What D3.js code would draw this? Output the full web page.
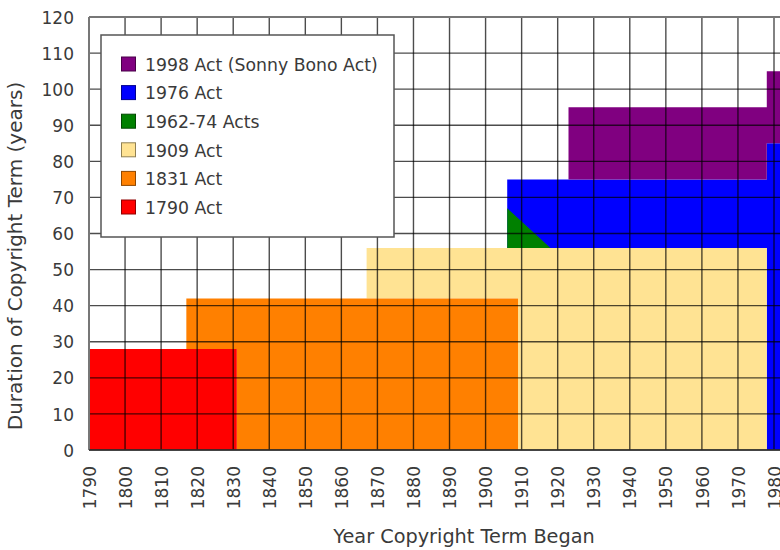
<!DOCTYPE html>
<html>
<head>
<meta charset="utf-8">
<script src="https://cdn.jsdelivr.net/npm/d3@7"></script>
<style>
  html, body { margin: 0; padding: 0; background: #fff; }
  svg { display: block; font-family: "DejaVu Sans", sans-serif; }
</style>
</head>
<body>
<svg id="chart" width="780" height="550"></svg>
<script>
// ---- data ----
const yearTicks = [1790,1800,1810,1820,1830,1840,1850,1860,1870,1880,1890,1900,1910,1920,1930,1940,1950,1960,1970,1980];
const termTicks = [0,10,20,30,40,50,60,70,80,90,100,110,120];
const actNames = ["1998 Act (Sonny Bono Act)","1976 Act","1962-74 Acts","1909 Act","1831 Act","1790 Act"];
// polygons: [year, term in years]
const act1998 = [[1923,75],[1923,95],[1978,95],[1978,105],[2000,105],[2000,85],[1978,85],[1978,75]];
const act1976 = [[1906,56],[1906,75],[1978,75],[1978,85],[2000,85],[2000,0],[1978,0],[1978,56]];
const act1962 = [[1906,56],[1906,67],[1918,56]];
const act1909 = [[1909,0],[1978,0],[1978,56],[1867,56],[1867,42],[1909,42]];
const act1831 = [[1831,0],[1909,0],[1909,42],[1817,42],[1817,28],[1831,28]];
const act1790 = [[1790,0],[1831,0],[1831,28],[1790,28]];

const actColors = ["#800080","#0000ff","#008000","#ffe393","#ff8000","#ff0000"];
const polys = [act1998, act1976, act1962, act1909, act1831, act1790];

// ---- layout ----
const svg = d3.select("#chart");
const x = d3.scaleLinear().domain([1790,1980]).range([89,774]);
const y = d3.scaleLinear().domain([0,120]).range([450,17]);
const textColor = "#3a3a3a";

svg.append("clipPath").attr("id","plotclip")
  .append("rect").attr("x",89).attr("y",17).attr("width",780-89).attr("height",450-17);

const plot = svg.append("g").attr("clip-path","url(#plotclip)");
const line = d3.line().x(d=>x(d[0])).y(d=>y(d[1])).curve(d3.curveLinearClosed);

// draw order: 1976, 1962-74, 1998, 1909, 1831, 1790
const order = [1,2,0,3,4,5];
order.forEach(i => {
  plot.append("path").attr("d", line(polys[i])).attr("fill", actColors[i]);
});

// grid
const grid = svg.append("g");
yearTicks.forEach(t => {
  grid.append("line").attr("x1",x(t)).attr("x2",x(t)).attr("y1",y(120)).attr("y2",y(0))
    .attr("stroke","#000").attr("stroke-opacity",0.7).attr("stroke-width",1.4);
});
termTicks.forEach(t => {
  grid.append("line").attr("x1",x(1790)).attr("x2",780).attr("y1",y(t)).attr("y2",y(t))
    .attr("stroke","#000").attr("stroke-opacity",0.7).attr("stroke-width",1.4);
});
// frame
svg.append("line").attr("x1",x(1790)).attr("x2",780).attr("y1",y(120)).attr("y2",y(120))
  .attr("stroke","#777").attr("stroke-width",2);
svg.append("line").attr("x1",x(1790)).attr("x2",x(1790)).attr("y1",y(120)).attr("y2",y(0))
  .attr("stroke","#777").attr("stroke-width",2);
svg.append("line").attr("x1",x(1790)).attr("x2",780).attr("y1",y(0)).attr("y2",y(0))
  .attr("stroke","#333").attr("stroke-width",1.6);

// y axis labels
const yAxis = d3.axisLeft(y).tickValues(termTicks).tickSize(0).tickPadding(0);
const ya = svg.append("g").attr("transform","translate(74,0)").call(yAxis);
ya.select(".domain").remove();
ya.selectAll("text").attr("font-size",17).attr("fill",textColor)
  .attr("font-family","DejaVu Sans").attr("dy","0.36em").attr("x",0);

// x axis labels (rotated)
const xAxis = d3.axisBottom(x).tickValues(yearTicks).tickSize(0).tickFormat(d3.format("d"));
const xa = svg.append("g").attr("transform","translate(0,450)").call(xAxis);
xa.select(".domain").remove();
xa.selectAll("text").attr("font-size",17).attr("fill",textColor).attr("font-family","DejaVu Sans")
  .attr("text-anchor","end").attr("transform","rotate(-90)")
  .attr("x",-16).attr("y",0).attr("dy","0.36em");

// axis titles
svg.append("text").attr("x",464).attr("y",543).attr("text-anchor","middle")
  .attr("font-size",19.3).attr("fill",textColor).text("Year Copyright Term Began");
svg.append("text").attr("transform","translate(22,256) rotate(-90)").attr("text-anchor","middle")
  .attr("font-size",20).attr("fill",textColor).text("Duration of Copyright Term (years)");

// legend
const lg = svg.append("g");
lg.append("rect").attr("x",101).attr("y",35).attr("width",293).attr("height",202)
  .attr("fill","#fff").attr("stroke","#555").attr("stroke-width",1.5);
actNames.forEach((n,i) => {
  const cy = 64.5 + i*28.6;
  lg.append("rect").attr("x",121.5).attr("y",cy-7.5).attr("width",14).attr("height",14)
    .attr("fill",actColors[i]).attr("stroke",d3.color(actColors[i]).darker(1.6)).attr("stroke-width",1);
  lg.append("text").attr("x",145).attr("y",cy).attr("dy","0.36em")
    .attr("font-size",17.3).attr("fill",textColor).text(n);
});
</script>
</body>
</html>
